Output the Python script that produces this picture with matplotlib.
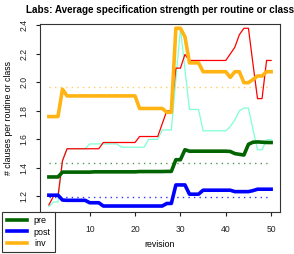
import matplotlib
matplotlib.use("Agg")
import matplotlib.pyplot as plt
import numpy as np

revision = list(range(1, 51))

inv = [1.76, 1.76, 1.76, 1.952, 1.905, 1.905, 1.905, 1.905, 1.905, 1.905,
       1.905, 1.905, 1.905, 1.905, 1.905, 1.905, 1.905, 1.905, 1.905, 1.905,
       1.817, 1.817, 1.817, 1.817, 1.817, 1.817, 1.79, 1.79, 2.38, 2.38,
       2.32, 2.137, 2.137, 2.137, 2.075, 2.075, 2.075, 2.075, 2.075, 2.075,
       2.035, 2.075, 2.075, 1.998, 1.998, 2.02, 2.045, 2.045, 2.075, 2.075]

red = [1.14, 1.20, 1.20, 1.45, 1.534, 1.534, 1.534, 1.534, 1.534, 1.534,
       1.534, 1.534, 1.578, 1.578, 1.578, 1.578, 1.578, 1.578, 1.578, 1.578,
       1.62, 1.62, 1.62, 1.62, 1.62, 1.71, 1.80, 1.80, 2.10, 2.10,
       2.196, 2.154, 2.154, 2.154, 2.154, 2.154, 2.154, 2.154, 2.154, 2.154,
       2.20, 2.247, 2.335, 2.38, 2.38, 2.13, 1.886, 1.886, 2.154, 2.154]

cyan = [1.127, 1.16, 1.16, 1.45, 1.534, 1.534, 1.534, 1.534, 1.534, 1.568,
        1.568, 1.568, 1.568, 1.568, 1.568, 1.568, 1.545, 1.545, 1.545, 1.545,
        1.545, 1.545, 1.60, 1.60, 1.60, 1.666, 1.666, 1.666, 2.02, 2.38,
        2.09, 1.81, 1.81, 1.81, 1.66, 1.66, 1.66, 1.66, 1.66, 1.66,
        1.69, 1.737, 1.80, 1.82, 1.82, 1.67, 1.527, 1.527, 1.597, 1.60]

pre = [1.336, 1.336, 1.336, 1.370, 1.370, 1.370, 1.370, 1.370, 1.370, 1.370,
       1.372, 1.372, 1.372, 1.372, 1.372, 1.372, 1.372, 1.372, 1.372, 1.372,
       1.374, 1.374, 1.374, 1.374, 1.374, 1.374, 1.375, 1.375, 1.457, 1.457,
       1.527, 1.517, 1.517, 1.517, 1.517, 1.517, 1.517, 1.517, 1.517, 1.517,
       1.515, 1.50, 1.495, 1.49, 1.565, 1.58, 1.582, 1.58, 1.578, 1.578]

post = [1.208, 1.208, 1.208, 1.174, 1.172, 1.172, 1.172, 1.172, 1.172, 1.155,
        1.155, 1.155, 1.132, 1.132, 1.132, 1.132, 1.132, 1.132, 1.132, 1.132,
        1.132, 1.132, 1.132, 1.132, 1.132, 1.132, 1.15, 1.15, 1.28, 1.28,
        1.28, 1.215, 1.215, 1.215, 1.243, 1.243, 1.243, 1.243, 1.243, 1.243,
        1.243, 1.233, 1.233, 1.233, 1.233, 1.24, 1.25, 1.25, 1.25, 1.25]

ref_inv = 1.97
ref_pre = 1.433
ref_post = 1.192

legend_labels = ["pre", "post", "inv"]
xticks = [10, 20, 30, 40, 50]
yticks = [1.2, 1.4, 1.6, 1.8, 2.0, 2.2, 2.4]

plt.rcParams['font.family'] = ['Liberation Sans', 'DejaVu Sans']

W, H = 294, 254
fig = plt.figure(figsize=(W / 100, H / 100), dpi=100)
ax = fig.add_axes([40 / W, (H - 212) / H, 240 / W, (212 - 24) / H])

c_inv = "#FFB414"
c_pre = "#006400"
c_post = "#0000FF"
c_red = "#FF0000"
c_cyan = "#7FFFD4"

ax.hlines(ref_inv, revision[0], revision[-1], colors="#FFCC66", linestyles=(0, (1, 3)), lw=1.0)
ax.hlines(ref_pre, revision[0], revision[-1], colors="#559955", linestyles=(0, (1, 3)), lw=1.0)
ax.hlines(ref_post, revision[0], revision[-1], colors="#3333FF", linestyles=(0, (1, 3)), lw=1.0)

ax.plot(revision, cyan, color=c_cyan, lw=0.9)
ax.plot(revision, red, color=c_red, lw=0.9)
l_pre, = ax.plot(revision, pre, color=c_pre, lw=2.6)
l_post, = ax.plot(revision, post, color=c_post, lw=2.6)
l_inv, = ax.plot(revision, inv, color=c_inv, lw=2.6)

ax.set_xlim(-0.96, 51.96)
ax.set_ylim(1.09, 2.41)
ax.set_xticks(xticks)
ax.set_yticks(yticks)
ax.set_yticklabels([f"{v:.1f}" for v in yticks], rotation=90, va="center")
ax.tick_params(axis="both", length=3, width=0.8, labelsize=6.2, colors="#222222")
ax.tick_params(axis="x", pad=6)
ax.tick_params(axis="y", pad=5)
for s in ax.spines.values():
    s.set_color("#333333")
    s.set_linewidth(0.8)

ax.set_xlabel("revision", fontsize=6.3, labelpad=5)
ax.set_ylabel("# clauses per routine or class", fontsize=6.3, labelpad=5)
fig.text(160 / W, 1 - 10 / H, "Labs: Average specification strength per routine or class",
         ha="center", va="center", fontsize=7.1, fontweight="bold")

leg = fig.legend([l_pre, l_post, l_inv], legend_labels, loc="lower left",
                 bbox_to_anchor=(2.3 / W, 1.7 / H), borderaxespad=0, fontsize=6.5,
                 handlelength=2.2, handletextpad=0.8, labelspacing=0.25,
                 borderpad=0.5, fancybox=False, framealpha=1, edgecolor="#333333")
leg.get_frame().set_linewidth(0.8)

fig.savefig("out.png", dpi=100)
